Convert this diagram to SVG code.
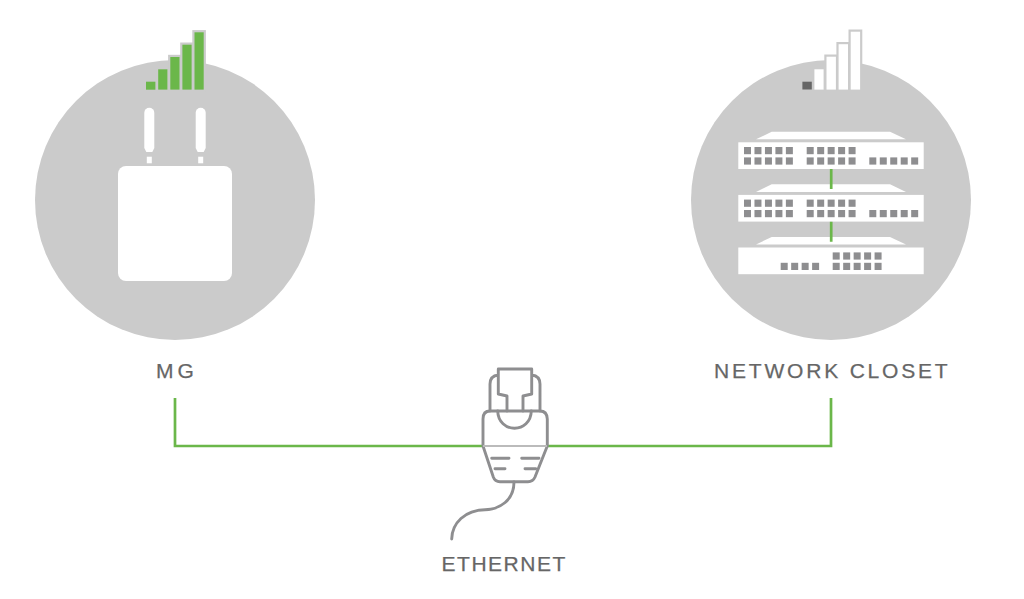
<svg xmlns="http://www.w3.org/2000/svg" width="1024" height="599" viewBox="0 0 1024 599">
<style>
.disc{fill:#cbcbcb}
.w{fill:#fff}
.bar{fill:#fff;stroke:#cbcbcb;stroke-width:4.4;paint-order:stroke}
.gbar{fill:#6bb74a;stroke:#cbcbcb;stroke-width:4.4;paint-order:stroke}
.port{fill:#8e8e90}
.link{fill:none;stroke:#6bb74a;stroke-width:2.7}
.pl{fill:none;stroke:#8e8e90;stroke-width:2.9;stroke-linecap:round;stroke-linejoin:round}
text{font-family:"Liberation Sans",Arial,sans-serif;font-size:21px;fill:#666;stroke:#666;stroke-width:.25;text-anchor:middle}
</style>
<defs>
<g id="p5"><rect class="port" width="7" height="7.2"/><rect class="port" x="10.47" width="7" height="7.2"/><rect class="port" x="20.94" width="7" height="7.2"/><rect class="port" x="31.41" width="7" height="7.2"/><rect class="port" x="41.88" width="7" height="7.2"/></g>
<g id="p4"><rect class="port" width="7" height="7.2"/><rect class="port" x="10.47" width="7" height="7.2"/><rect class="port" x="20.94" width="7" height="7.2"/><rect class="port" x="31.41" width="7" height="7.2"/></g>
<g id="sw"><path class="w" d="M771.7 131.7H890L906 139.3H756Z"/><rect class="w" x="738.3" y="142.3" width="185.4" height="26.7"/></g>
</defs>
<g id="mg">
<circle class="disc" cx="175" cy="200" r="140"/>
<rect class="gbar" x="146" y="81.7" width="9.4" height="8" style="stroke:none"/>
<rect class="gbar" x="158.2" y="69.3" width="9.2" height="20.3" style="stroke:none"/>
<rect class="gbar" x="170.3" y="57" width="9.2" height="32.6"/>
<rect class="gbar" x="182.4" y="44.7" width="9.2" height="44.9"/>
<rect class="gbar" x="194.5" y="32.3" width="9.2" height="57.3"/>
<path class="w" d="M144.3 112.7a5 5 0 0 1 10 0V148l-2 4h-6l-2-4Z"/>
<rect class="w" x="146.8" y="156.7" width="5" height="6.6"/>
<path class="w" d="M195.7 112.7a5 5 0 0 1 10 0V148l-2 4h-6l-2-4Z"/>
<rect class="w" x="198.2" y="156.7" width="5" height="6.6"/>
<rect class="w" x="118" y="166" width="114" height="115" rx="8"/>
</g>
<g id="closet">
<circle class="disc" cx="831" cy="200" r="140"/>
<rect x="802.4" y="81.7" width="9.4" height="7.8" fill="#666"/>
<rect class="bar" x="814.4" y="69.3" width="9.2" height="20.3" style="stroke:none"/>
<rect class="bar" x="826.5" y="56.7" width="9.4" height="32.9"/>
<rect class="bar" x="838.6" y="44.2" width="9.4" height="45.4"/>
<rect class="bar" x="850.7" y="31.7" width="9.4" height="57.9"/>
<use href="#sw"/>
<use href="#sw" y="52.6"/>
<use href="#sw" y="105.2"/>
<use href="#p5" x="744" y="147"/><use href="#p5" x="806.7" y="147"/>
<use href="#p5" x="744" y="157.4"/><use href="#p5" x="806.7" y="157.4"/><use href="#p5" x="869.3" y="157.4"/>
<use href="#p5" x="744" y="199.6"/><use href="#p5" x="806.7" y="199.6"/>
<use href="#p5" x="744" y="210"/><use href="#p5" x="806.7" y="210"/><use href="#p5" x="869.3" y="210"/>
<use href="#p5" x="832.7" y="252.4"/>
<use href="#p4" x="780.7" y="262.8"/><use href="#p5" x="832.7" y="262.8"/>
</g>
<g id="connectors">
<path class="link" d="M175 398V446H831V398"/>
<path class="link" d="M831.2 169V189M831.2 221.7V241.7"/>
</g>
<g id="ethernet">
<path d="M490 411H540Q547 411 547.3 419V446L535 477Q533 481.7 528 481.7H500Q495 481.7 493.3 477L483 446V419Q483 411 490 411Z" fill="#fff"/>
<path class="pl" d="M507 411V396L498.3 394V369H531.7V394L523 396V411M498.3 375Q490 376 490 384V411M531.7 375Q540 376 540 384V411"/>
<path class="pl" d="M490 411H540Q547 411 547.3 419V446L535 477Q533 481.7 528 481.7H500Q495 481.7 493.3 477L483 446V419Q483 411 490 411Z"/>
<path d="M483 446H547" stroke="#bbb" stroke-width="2"/>
<path class="pl" d="M497.7 411C498 422 506 428.3 514.5 428.3S531 422 531.3 411"/>
<path class="pl" d="M491.7 458.3H509M521.7 458.3H539M495 468.7H505M525 468.7H535.7"/>
<path class="pl" d="M514 482C514 500 500 509.5 485 509.7C465 510 452 523 451.7 539"/>
</g>
<g id="labels">
<text x="177" y="378" letter-spacing="4">MG</text>
<text x="832.3" y="378" letter-spacing="2.8">NETWORK CLOSET</text>
<text x="504.2" y="571" letter-spacing="1.5">ETHERNET</text>
</g>
</svg>
